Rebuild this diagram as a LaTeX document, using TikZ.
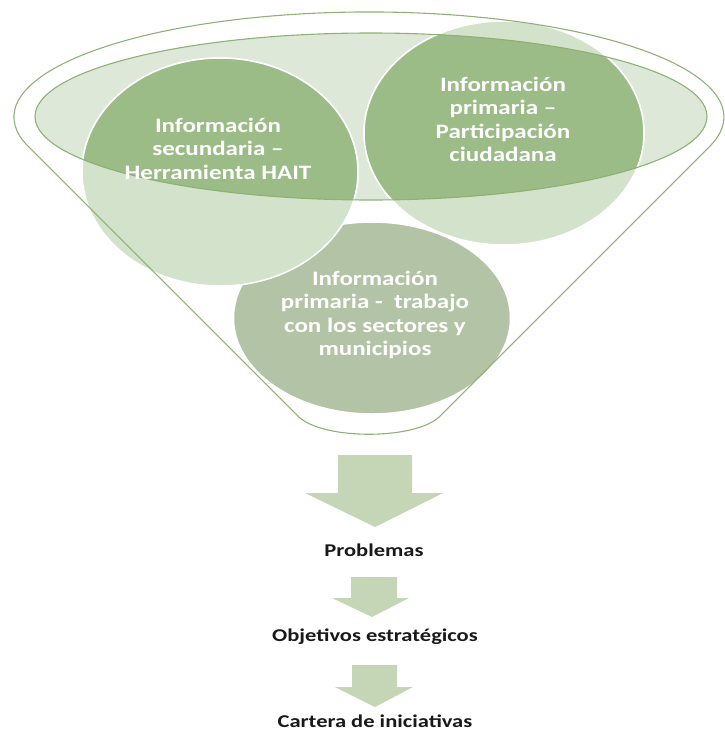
\documentclass[tikz,border=0pt]{standalone}
\usepackage{fontspec}
\setmainfont{Carlito}
\usepackage{graphicx}
\definecolor{darkg}{HTML}{9BBB87}
\definecolor{lightg}{HTML}{D3E2CA}
\definecolor{rimg}{HTML}{DEE8D8}
\definecolor{botg}{HTML}{B2C4A5}
\definecolor{lineg}{HTML}{8DB273}
\definecolor{arrg}{HTML}{C4D6B6}
\tikzset{
  funnelline/.style={draw=lineg, line width=1.1pt},
  bubble/.style={draw=white, line width=1.5pt},
  circtext/.style={text=white, font=\bfseries\fontsize{20.5}{23.5}\selectfont, inner sep=0pt},
  labtext/.style={text=black!90, font=\bfseries\fontsize{18}{22}\selectfont, inner sep=0pt},
  blockarrow/.style={fill=arrg, draw=none}
}
\newcommand{\stretchtext}[1]{\scalebox{1.22}[1]{\begin{tabular}{@{}c@{}}#1\end{tabular}}}
\newcommand{\stretchlab}[1]{\scalebox{1.25}[1]{#1}}
\begin{document}
\begin{tikzpicture}[x=1pt,y=-1pt]
\useasboundingbox (0,0) rectangle (724,731);
% rim of the funnel
\fill[rimg] (371,116.5) ellipse [x radius=336, y radius=83.5];
% bottom bubble
\path[bubble, fill=botg] (372,318) ellipse [x radius=138.5, y radius=96];
% upper bubbles (part outside the rim)
\path[bubble, fill=lightg] (220,172) ellipse [x radius=138, y radius=114];
\path[bubble, fill=lightg] (504,133) ellipse [x radius=140, y radius=112];
% upper bubbles (part inside the rim)
\begin{scope}
  \clip (371,116.5) ellipse [x radius=336, y radius=83.5];
  \path[bubble, fill=darkg] (220,172) ellipse [x radius=138, y radius=114];
  \path[bubble, fill=darkg] (504,133) ellipse [x radius=140, y radius=112];
\end{scope}
% rim outline
\draw[funnelline] (371,116.5) ellipse [x radius=336, y radius=83.5];
% funnel outline
\draw[funnelline] (298.8,417) -- (28.6,146.8)
  arc [start angle=163.5, end angle=376.5, x radius=355, y radius=105]
  -- (439.2,417) .. controls (414,440) and (324,440) .. (298.8,417) -- cycle;
% bubble texts
\node[circtext] (sec) at (218,151) {\stretchtext{Información\\secundaria –\\Herramienta HAIT}};
\node[circtext] (pri) at (503,122) {\stretchtext{Información\\primaria –\\Participación\\ciudadana}};
\node[circtext] (tra) at (375,316) {\stretchtext{Información\\primaria -~~trabajo\\con los sectores y\\municipios}};
% block arrows
\path[blockarrow] (338,455) -- (412,455) -- (412,493) -- (443,493) -- (375,527) -- (305,493) -- (338,493) -- cycle;
\path[blockarrow] (351,577) -- (397,577) -- (397,598) -- (409,598) -- (372,617) -- (332,598) -- (351,598) -- cycle;
\path[blockarrow] (352,665) -- (397,665) -- (397,687) -- (413,687) -- (375,707) -- (335,687) -- (352,687) -- cycle;
% labels
\node[labtext] (prob) at (374,550) {\stretchlab{Problemas}};
\node[labtext] (obj) at (375,637) {\stretchlab{Objetivos estratégicos}};
\node[labtext] (cart) at (375,721) {\stretchlab{Cartera de iniciativas}};
\end{tikzpicture}
\end{document}
